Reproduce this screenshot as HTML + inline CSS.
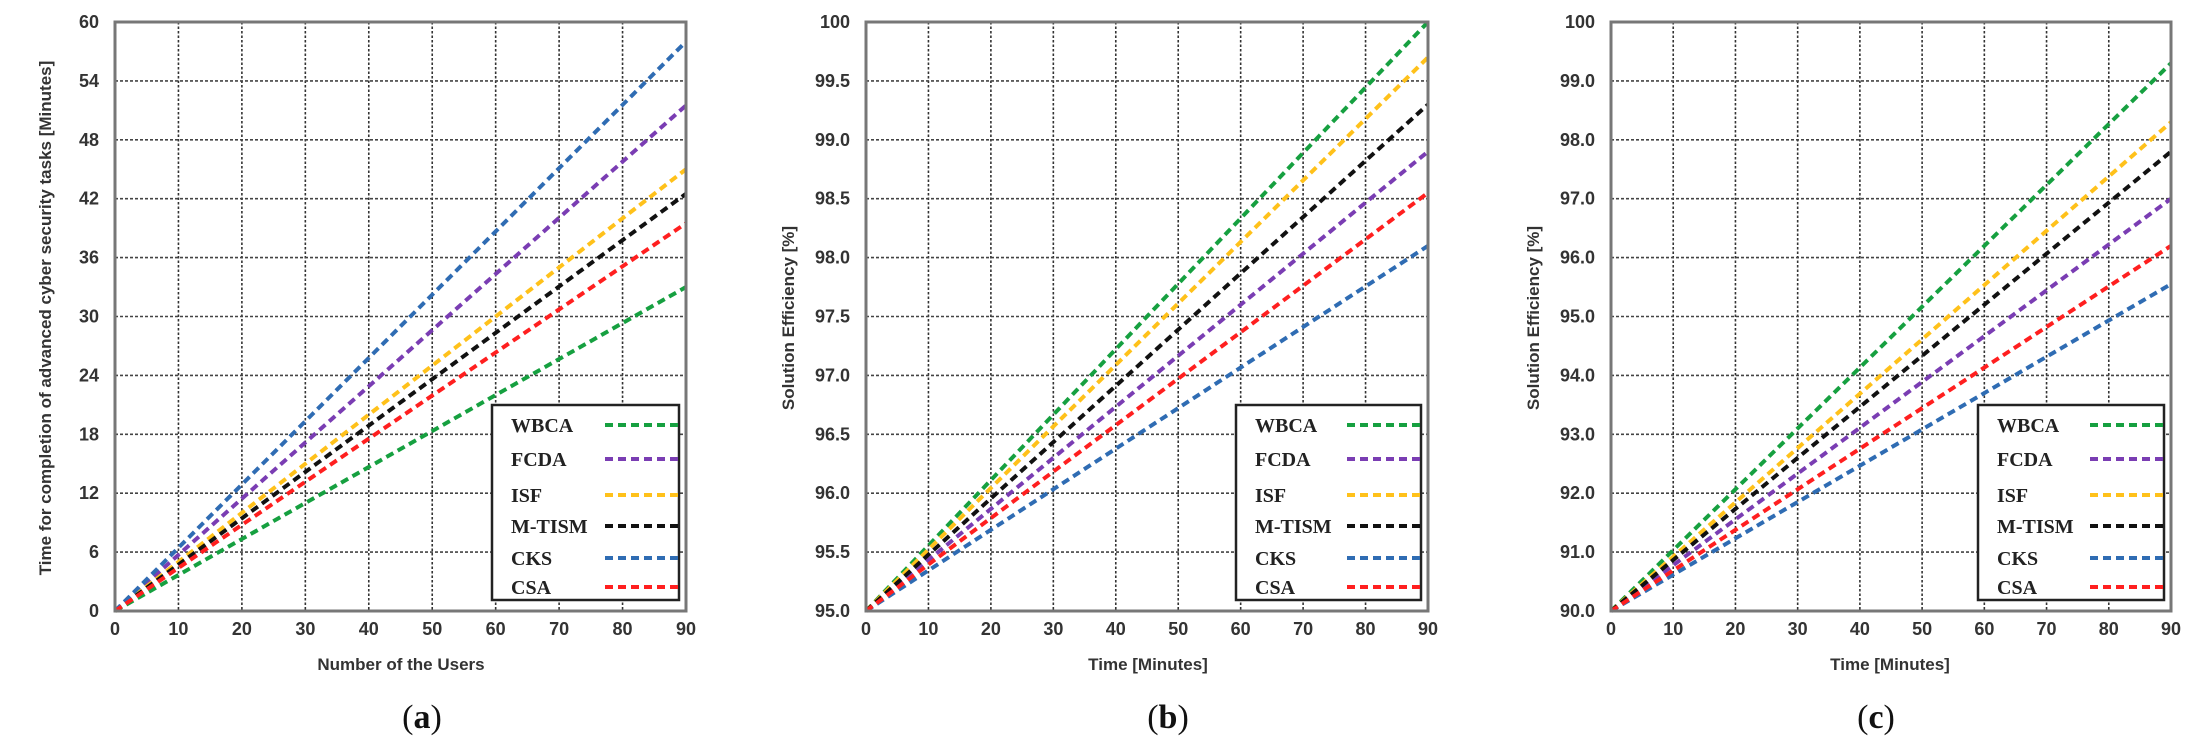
<!DOCTYPE html>
<html><head><meta charset="utf-8"><style>
html,body{margin:0;padding:0;background:#fff;}
svg{display:block;}
</style></head><body>
<svg id="s" width="2206" height="746" xmlns="http://www.w3.org/2000/svg" font-family="Liberation Sans, sans-serif">
<g font-weight="bold" font-size="17" fill="#333">
<text transform="translate(51,318) rotate(-90)" text-anchor="middle">Time for completion of advanced cyber security tasks [Minutes]</text>
<text x="401" y="670" text-anchor="middle">Number of the Users</text>
<text transform="translate(794,318) rotate(-90)" text-anchor="middle">Solution Efficiency [%]</text>
<text x="1148" y="670" text-anchor="middle">Time [Minutes]</text>
<text transform="translate(1539,318) rotate(-90)" text-anchor="middle">Solution Efficiency [%]</text>
<text x="1890" y="670" text-anchor="middle">Time [Minutes]</text>
</g>
<g font-family="Liberation Serif, serif" font-size="34" fill="#111" text-anchor="middle">
<text x="422" y="728">(<tspan font-weight="bold">a</tspan>)</text>
<text x="1168" y="728">(<tspan font-weight="bold">b</tspan>)</text>
<text x="1876" y="728">(<tspan font-weight="bold">c</tspan>)</text>
</g>
<g id="plots"></g>
</svg>
<script>
var NS="http://www.w3.org/2000/svg",g=document.getElementById('plots');
function el(t,a,txt){var e=document.createElementNS(NS,t);for(var k in a)e.setAttribute(k,a[k]);if(txt!==undefined)e.textContent=txt;g.appendChild(e);return e;}
var col={WBCA:'#16a040',FCDA:'#7a3db3',ISF:'#ffc11a',MT:'#111',CKS:'#2f6cb3',CSA:'#ff1f1f'};
var names=[['WBCA','WBCA'],['FCDA','FCDA'],['ISF','ISF'],['M-TISM','MT'],['CKS','CKS'],['CSA','CSA']];
var P=[
 {x0:115,x1:686,y0:22,y1:611,ylab:['0','6','12','18','24','30','36','42','48','54','60'],ymin:0,ymax:60,start:0,
  end:{CKS:58,FCDA:51.5,ISF:45,MT:42.5,CSA:39.5,WBCA:33},lx:492},
 {x0:866,x1:1428,y0:22,y1:611,ylab:['95.0','95.5','96.0','96.5','97.0','97.5','98.0','98.5','99.0','99.5','100'],ymin:95,ymax:100,start:95,
  end:{WBCA:100,ISF:99.7,MT:99.3,FCDA:98.9,CSA:98.55,CKS:98.1},lx:1236},
 {x0:1611,x1:2171,y0:22,y1:611,ylab:['90.0','91.0','92.0','93.0','94.0','95.0','96.0','97.0','98.0','99.0','100'],ymin:90,ymax:100,start:90,
  end:{WBCA:99.3,ISF:98.3,MT:97.8,FCDA:97.0,CSA:96.2,CKS:95.55},lx:1978}
];
var xl=['0','10','20','30','40','50','60','70','80','90'];
P.forEach(function(p){
 var W=p.x1-p.x0,H=p.y1-p.y0;
 for(var i=0;i<=9;i++){var x=p.x0+i*W/9;
  if(i>0&&i<9)el('line',{x1:x,y1:p.y0,x2:x,y2:p.y1,stroke:'#333','stroke-width':1.6,'stroke-dasharray':'2.5 2'});
  el('text',{x:x,y:p.y1+24,'text-anchor':'middle','font-size':18,'font-weight':'bold',fill:'#333'},xl[i]);}
 for(var j=0;j<=10;j++){var y=p.y1-j*H/10;
  if(j>0&&j<10)el('line',{x1:p.x0,y1:y,x2:p.x1,y2:y,stroke:'#444','stroke-width':1.6,'stroke-dasharray':'3 2'});
  el('text',{x:p.x0-16,y:y+6,'text-anchor':'end','font-size':18,'font-weight':'bold',fill:'#333'},p.ylab[j]);}
 function Y(v){return p.y1-(v-p.ymin)/(p.ymax-p.ymin)*H;}
 names.forEach(function(n){var k=n[1];
  el('line',{x1:p.x0,y1:Y(p.start),x2:p.x1,y2:Y(p.end[k]),stroke:col[k],'stroke-width':4,'stroke-dasharray':'8 5'});});
 el('rect',{x:p.x0,y:p.y0,width:W,height:H,fill:'none',stroke:'#777','stroke-width':3});
 var lx=p.lx,lw=p.x1-lx-7;
 el('rect',{x:lx,y:405,width:lw,height:195,fill:'#fff',stroke:'#222','stroke-width':2.5});
 names.forEach(function(n,i){var y=[425,459,495,526,558,587][i];
  el('text',{x:lx+19,y:y+7,'font-family':'Liberation Serif, serif','font-weight':'bold','font-size':20,fill:'#222'},n[0]);
  el('line',{x1:lx+lw-74,y1:y,x2:lx+lw,y2:y,stroke:col[n[1]],'stroke-width':4,'stroke-dasharray':'8 5'});});
});
</script>
</body></html>
